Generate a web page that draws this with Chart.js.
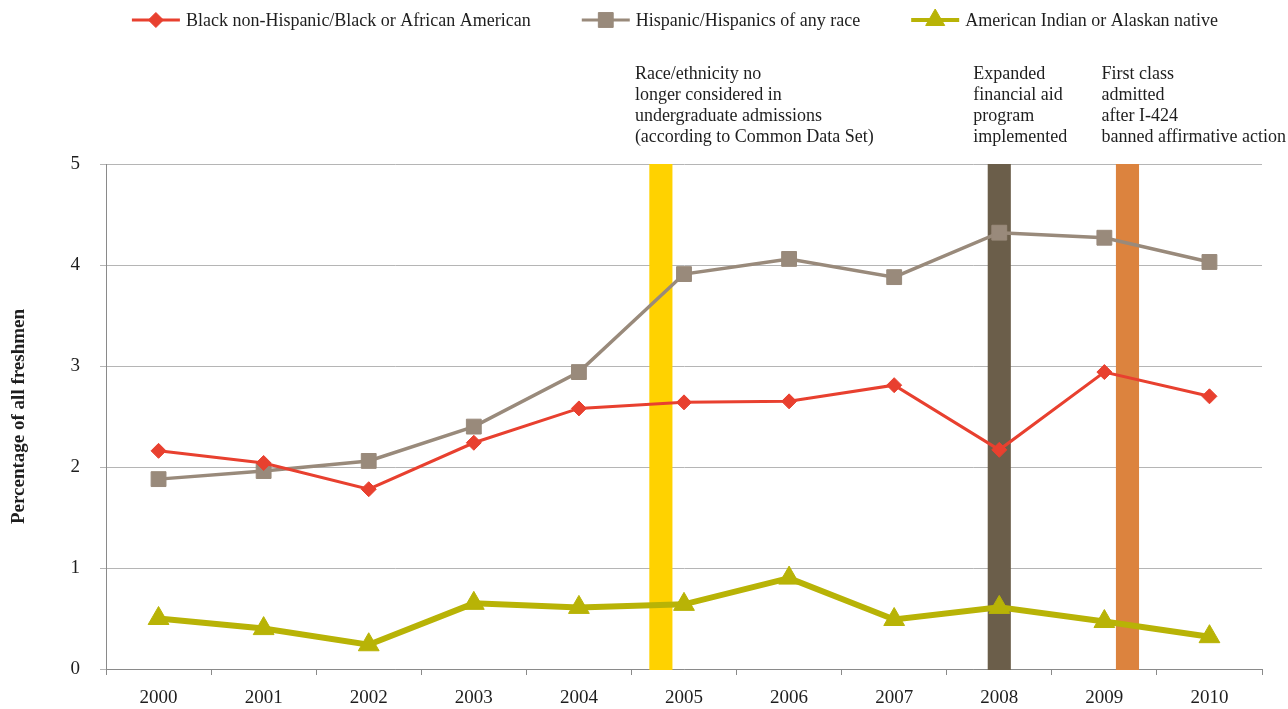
<!DOCTYPE html>
<html>
<head>
<meta charset="utf-8">
<script src="https://cdn.jsdelivr.net/npm/chart.js@4/dist/chart.umd.min.js"></script>
<style>
  html, body { margin: 0; padding: 0; background: #ffffff; }
  #wrap { width: 1288px; height: 709px; }
</style>
</head>
<body>
<div id="wrap"><canvas id="c" width="1288" height="709"></canvas></div>
<script>
// Freshman enrollment share by race/ethnicity, 2000-2010
const years = ['2000', '2001', '2002', '2003', '2004', '2005', '2006', '2007', '2008', '2009', '2010'];
const blackPct    = [2.16, 2.04, 1.78, 2.24, 2.58, 2.64, 2.65, 2.81, 2.17, 2.94, 2.70];
const hispanicPct = [1.88, 1.96, 2.06, 2.40, 2.94, 3.91, 4.06, 3.88, 4.32, 4.27, 4.03];
const nativePct   = [0.50, 0.40, 0.24, 0.65, 0.61, 0.64, 0.90, 0.49, 0.61, 0.47, 0.32];
const seriesNames = [
  'Black non-Hispanic/Black or African American',
  'Hispanic/Hispanics of any race',
  'American Indian or Alaskan native'
];
const yTickValues = [0, 1, 2, 3, 4, 5];
const axisTitle = 'Percentage of all freshmen';

// Policy events, placed on the year axis (fractional index = between years)
const eventPositions = [4.78, 8, 9.22];
const eventColors = ['#FFD200', '#6B5E4A', '#DC833E'];
const eventNotes = [
  ['Race/ethnicity no', 'longer considered in', 'undergraduate admissions', '(according to Common Data Set)'],
  ['Expanded', 'financial aid', 'program', 'implemented'],
  ['First class', 'admitted', 'after I-424', 'banned affirmative action']
];

const FONT = '"Liberation Serif", "DejaVu Serif", serif';
const TEXT = '#1e1e1e';

// Vertical event bands behind the lines, with their notes above the plot
const eventBands = {
  id: 'eventBands',
  beforeDatasetsDraw(chart) {
    const { ctx, chartArea, scales: { x } } = chart;
    const catW = x.getPixelForValue(1) - x.getPixelForValue(0);
    const w = catW * 0.22;
    ctx.save();
    eventPositions.forEach((p, i) => {
      const cx = x.getPixelForValue(p);
      ctx.fillStyle = eventColors[i];
      ctx.fillRect(cx - w / 2, chartArea.top, w, chartArea.bottom - chartArea.top + 1);
    });
    ctx.restore();
  },
  afterDraw(chart) {
    const { ctx, chartArea, scales: { x } } = chart;
    ctx.save();
    ctx.font = '18px ' + FONT;
    ctx.fillStyle = TEXT;
    ctx.textAlign = 'left';
    ctx.textBaseline = 'middle';
    eventPositions.forEach((p, i) => {
      const left = x.getPixelForValue(p) - 26;
      eventNotes[i].forEach((line, j) => {
        ctx.fillText(line, left, chartArea.top - 90 + j * 21);
      });
    });
    ctx.restore();
  }
};

// Legend row: line sample with marker, then the series name
const lineLegend = {
  id: 'lineLegend',
  afterDraw(chart) {
    const { ctx } = chart;
    const y = 20;
    const sample = 48, textGap = 6, itemGap = 51;
    ctx.save();
    ctx.font = '18px ' + FONT;
    const widths = chart.data.datasets.map(d => sample + textGap + ctx.measureText(d.label).width);
    const total = widths.reduce((a, b) => a + b, 0) + itemGap * (widths.length - 1);
    let xPos = 675 - total / 2;
    chart.data.datasets.forEach((d, i) => {
      ctx.strokeStyle = d.borderColor;
      ctx.lineWidth = d.legendLineWidth;
      ctx.beginPath();
      ctx.moveTo(xPos, y);
      ctx.lineTo(xPos + sample, y);
      ctx.stroke();
      ctx.fillStyle = d.pointBackgroundColor;
      ctx.strokeStyle = d.pointBorderColor;
      ctx.lineWidth = 1;
      Chart.helpers.drawPoint(ctx, {
        pointStyle: d.pointStyle,
        radius: d.legendRadius,
        rotation: 0,
        borderWidth: 1
      }, xPos + sample / 2, y);
      ctx.fillStyle = TEXT;
      ctx.textAlign = 'left';
      ctx.textBaseline = 'middle';
      ctx.fillText(d.label, xPos + sample + textGap, y + 1);
      xPos += widths[i] + itemGap;
    });
    ctx.restore();
  }
};

new Chart(document.getElementById('c'), {
  type: 'line',
  data: {
    labels: years,
    datasets: [
      {
        label: seriesNames[0],
        data: blackPct,
        borderColor: '#E8402F',
        borderWidth: 3,
        pointStyle: 'rectRot',
        pointRadius: 7.5,
        pointBackgroundColor: '#E8402F',
        pointBorderColor: '#E8402F',
        pointBorderWidth: 1,
        legendRadius: 7.5,
        legendLineWidth: 3,
        tension: 0
      },
      {
        label: seriesNames[1],
        data: hispanicPct,
        borderColor: '#998A7B',
        borderWidth: 3.5,
        pointStyle: 'rect',
        pointRadius: 10.5,
        pointBackgroundColor: '#998A7B',
        pointBorderColor: '#998A7B',
        pointBorderWidth: 1,
        legendRadius: 10.5,
        legendLineWidth: 3,
        tension: 0
      },
      {
        label: seriesNames[2],
        data: nativePct,
        borderColor: '#B8B306',
        borderWidth: 6,
        pointStyle: 'triangle',
        pointRadius: 12,
        pointBackgroundColor: '#B8B306',
        pointBorderColor: '#B8B306',
        pointBorderWidth: 1,
        legendRadius: 11,
        legendLineWidth: 4,
        tension: 0
      }
    ]
  },
  options: {
    responsive: false,
    animation: false,
    devicePixelRatio: 1,
    layout: { padding: { top: 164, right: 26, bottom: 0, left: 0 } },
    plugins: {
      legend: { display: false },
      tooltip: { enabled: false }
    },
    scales: {
      x: {
        type: 'category',
        offset: true,
        afterFit(scale) { scale.height = 40; },
        grid: {
          offset: true,
          drawOnChartArea: false,
          drawTicks: true,
          tickLength: 6,
          color: '#8a8a8a'
        },
        border: { display: true, color: '#8a8a8a', width: 1 },
        ticks: {
          padding: 12,
          color: TEXT,
          font: { family: FONT, size: 19 },
          maxRotation: 0
        }
      },
      y: {
        min: 0,
        max: 5,
        afterFit(scale) { scale.width = 106; },
        afterBuildTicks(scale) { scale.ticks = yTickValues.map(v => ({ value: v })); },
        grid: {
          color: '#b5b5b5',
          lineWidth: 1,
          drawTicks: true,
          tickLength: 6
        },
        border: { display: true, color: '#8a8a8a', width: 1 },
        ticks: {
          padding: 20,
          color: TEXT,
          font: { family: FONT, size: 19 }
        },
        title: {
          display: true,
          text: axisTitle,
          color: TEXT,
          font: { family: FONT, size: 19, weight: 'bold' },
          padding: { top: 8, bottom: 0 }
        }
      }
    }
  },
  plugins: [eventBands, lineLegend]
});
</script>
</body>
</html>
